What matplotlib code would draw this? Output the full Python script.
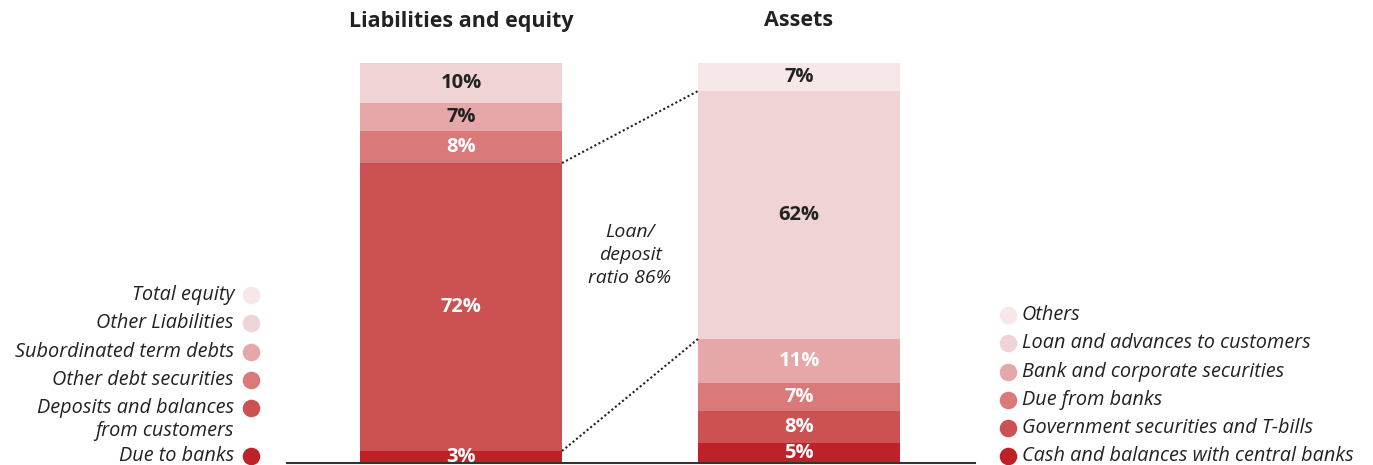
import matplotlib.pyplot as plt

# liabilities and equity, bottom to top
liab_labels = ['Due to banks', 'Deposits and balances\nfrom customers', 'Other debt securities',
               'Subordinated term debts', 'Other Liabilities', 'Total equity']
liab_values = [3, 72, 8, 7, 10, 0]
# total equity is not drawn as a segment in the bar (legend only)

# assets, bottom to top
asset_labels = ['Cash and balances with central banks', 'Government securities and T-bills',
                'Due from banks', 'Bank and corporate securities',
                'Loan and advances to customers', 'Others']
asset_values = [5, 8, 7, 11, 62, 7]

reds = ['#BE2127', '#CC5153', '#D97979', '#E6A7A8', '#F0D3D5', '#F8E7E8']
liab_txt = ['white', 'white', 'white', '#222222', '#222222', '#222222']
asset_txt = ['white', 'white', 'white', 'white', '#222222', '#222222']

plt.rcParams['font.family'] = ['Open Sans', 'DejaVu Sans']

W, H = 1373, 465
fig = plt.figure(figsize=(W / 100, H / 100), dpi=100)

# bar axes, x in pixel units
ax = fig.add_axes([287 / W, 2 / H, (975 - 287) / W, 400 / H])
ax.set_xlim(287, 975)
ax.set_ylim(0, 100)
ax.axis('off')

bar_x = [461, 799]
bar_w = 202

bottom = 0
for v, c, tc in zip(liab_values, reds, liab_txt):
    if v == 0:
        continue
    ax.bar(bar_x[0], v, bottom=bottom, width=bar_w, color=c, linewidth=0)
    ax.text(bar_x[0], bottom + v / 2, f'{v}%', ha='center', va='center',
            fontsize=14.5, fontweight='bold', color=tc)
    bottom += v

bottom = 0
for v, c, tc in zip(asset_values, reds, asset_txt):
    ax.bar(bar_x[1], v, bottom=bottom, width=bar_w, color=c, linewidth=0)
    ax.text(bar_x[1], bottom + v / 2, f'{v}%', ha='center', va='center',
            fontsize=14.5, fontweight='bold', color=tc)
    bottom += v

# dotted connectors: deposits -> loans
dep_lo = liab_values[0]
dep_hi = dep_lo + liab_values[1]
loan_lo = sum(asset_values[:4])
loan_hi = loan_lo + asset_values[4]
x0, x1 = bar_x[0] + bar_w / 2, bar_x[1] - bar_w / 2
ax.plot([x0, x1], [dep_hi, loan_hi], ls=(0, (1, 1.2)), color='#222222', lw=1.5)
ax.plot([x0, x1], [dep_lo, loan_lo], ls=(0, (1, 1.2)), color='#222222', lw=1.5)

ax.text((x0 + x1) / 2, 52, 'Loan/\ndeposit\nratio 86%', ha='center', va='center',
        fontsize=14, style='italic', color='#222222', linespacing=1.35)

# baseline
ax.plot([287, 975], [0, 0], color='#333333', lw=1.5, clip_on=False)

# overlay in pixel coords for titles and legends
ov = fig.add_axes([0, 0, 1, 1])
ov.set_xlim(0, W)
ov.set_ylim(H, 0)
ov.axis('off')

ov.text(461, 21, 'Liabilities and equity', ha='center', va='center',
        fontsize=15.5, fontweight='bold', color='#222222')
ov.text(799, 21, 'Assets', ha='center', va='center',
        fontsize=15.5, fontweight='bold', color='#222222')

# left legend (top to bottom)
left_y = [456, 408, 380, 352, 323, 295]
for lab, c, y in zip(liab_labels, reds, left_y):
    ov.scatter(251, y, s=160, color=c, linewidth=0)
    ty = y + 11 if '\n' in lab else y
    ov.text(234, ty, lab, ha='right', va='center', fontsize=14.3, style='italic',
            color='#222222', linespacing=1.2)

right_y = [456, 428, 400, 372, 343, 315]
for lab, c, y in zip(asset_labels, reds, right_y):
    ov.scatter(1008, y, s=160, color=c, linewidth=0)
    ov.text(1022, y, lab, ha='left', va='center',
            fontsize=14.3, style='italic', color='#222222')

fig.savefig('out.png', dpi=100)
